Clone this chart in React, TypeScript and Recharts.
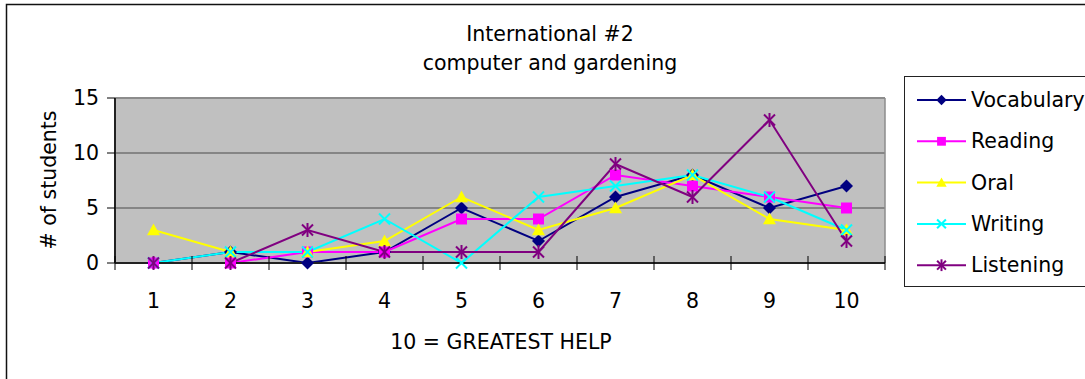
import React from 'react';
import { LineChart, Line, XAxis, YAxis, CartesianGrid, Legend, ReferenceLine } from 'recharts';

// Ratings on the 1..10 scale (10 = greatest help)
const ratings = [1, 2, 3, 4, 5, 6, 7, 8, 9, 10];

// Number of students giving each rating, per skill
const vocabulary = [0, 1, 0, 1, 5, 2, 6, 8, 5, 7];
const reading = [0, 0, 1, 1, 4, 4, 8, 7, 6, 5];
const oral = [3, 1, 1, 2, 6, 3, 5, 8, 4, 3];
const writing = [0, 1, 1, 4, 0, 6, 7, 8, 6, 3];
const listening = [0, 0, 3, 1, 1, 1, 9, 6, 13, 2];

const countTicks = [0, 5, 10, 15];

const titleLines = ['International #2', 'computer and gardening'];
const xTitle = '10 = GREATEST HELP';
const yTitle = '# of students';

type MarkerKind = 'diamond' | 'square' | 'triangle' | 'cross' | 'star';

const series: { key: string; color: string; marker: MarkerKind; values: number[] }[] = [
  { key: 'Vocabulary', color: '#000080', marker: 'diamond', values: vocabulary },
  { key: 'Reading', color: '#FF00FF', marker: 'square', values: reading },
  { key: 'Oral', color: '#FFFF00', marker: 'triangle', values: oral },
  { key: 'Writing', color: '#00FFFF', marker: 'cross', values: writing },
  { key: 'Listening', color: '#800080', marker: 'star', values: listening },
];

const data = ratings.map((r, i) => {
  const row: Record<string, number> = { rating: r };
  series.forEach((s) => {
    row[s.key] = s.values[i];
  });
  return row;
});

// Category labels sit on whole numbers, tick marks on the half steps between them
const xTicks = ratings
  .flatMap((r) => [r - 0.5, r])
  .concat(ratings[ratings.length - 1] + 0.5);

const FONT = '"DejaVu Sans", Verdana, sans-serif';
const FONT_SIZE = 20.5;

function Marker({ kind, color, cx, cy, s = 1 }: { kind: MarkerKind; color: string; cx: number; cy: number; s?: number }) {
  if (cx == null || cy == null) return null;
  switch (kind) {
    case 'diamond': {
      const r = 6.5 * s;
      return <polygon points={`${cx},${cy - r} ${cx + r},${cy} ${cx},${cy + r} ${cx - r},${cy}`} fill={color} />;
    }
    case 'square': {
      const h = 5.5 * s;
      return <rect x={cx - h} y={cy - h} width={2 * h} height={2 * h} fill={color} />;
    }
    case 'triangle': {
      const h = 6.5 * s;
      return <polygon points={`${cx},${cy - h} ${cx + h},${cy + h * 0.8} ${cx - h},${cy + h * 0.8}`} fill={color} />;
    }
    case 'cross': {
      const h = 5.5 * s;
      return (
        <g stroke={color} strokeWidth={2}>
          <line x1={cx - h} y1={cy - h} x2={cx + h} y2={cy + h} />
          <line x1={cx - h} y1={cy + h} x2={cx + h} y2={cy - h} />
        </g>
      );
    }
    case 'star': {
      const h = 5.5 * s;
      return (
        <g stroke={color} strokeWidth={2}>
          <line x1={cx - h} y1={cy - h} x2={cx + h} y2={cy + h} />
          <line x1={cx - h} y1={cy + h} x2={cx + h} y2={cy - h} />
          <line x1={cx} y1={cy - h - 1.5} x2={cx} y2={cy + h + 1.5} />
        </g>
      );
    }
    default:
      return null;
  }
}

const makeDot = (kind: MarkerKind, color: string) => (props: any) => (
  <Marker key={`${kind}-${props.index}`} kind={kind} color={color} cx={props.cx} cy={props.cy} />
);

const XTick = (props: any) => {
  const { x, y, payload } = props;
  const v = payload.value;
  if (Number.isInteger(v)) {
    return (
      <text x={x} y={y + 45} textAnchor="middle" fontFamily={FONT} fontSize={FONT_SIZE} fill="#000">
        {v}
      </text>
    );
  }
  return <line x1={x} x2={x} y1={y - 7} y2={y + 7} stroke="#000" strokeWidth={1} />;
};

const YTick = (props: any) => {
  const { x, y, payload } = props;
  return (
    <g>
      <line x1={x - 8} x2={x} y1={y} y2={y} stroke="#000" strokeWidth={1} />
      <text x={x - 16} y={y + 7} textAnchor="end" fontFamily={FONT} fontSize={FONT_SIZE} fill="#000">
        {payload.value}
      </text>
    </g>
  );
};

const seriesIndex = (name: string) => series.findIndex((s) => s.key === name);

const LegendBox = (props: any) => {
  const payload: any[] = [...(props.payload || [])].sort(
    (a, b) => seriesIndex(String(a.dataKey ?? a.value)) - seriesIndex(String(b.dataKey ?? b.value))
  );
  const rowGap = 41.3;
  return (
    <div
      style={{
        width: 200,
        height: 211,
        boxSizing: 'border-box',
        border: '1px solid #222',
        background: '#fff',
      }}
    >
      <svg width={200} height={209} style={{ display: 'block' }}>
        {payload.map((entry, i) => {
          const def = series.find((s) => s.key === entry.dataKey || s.key === entry.value);
          if (!def) return null;
          const cy = 23 + i * rowGap;
          return (
            <g key={def.key}>
              <line x1={12} x2={61} y1={cy} y2={cy} stroke={def.color} strokeWidth={2} />
              <Marker kind={def.marker} color={def.color} cx={36.5} cy={cy} s={0.8} />
              <text x={66} y={cy + 7} fontFamily={FONT} fontSize={FONT_SIZE} fill="#000">
                {entry.value}
              </text>
            </g>
          );
        })}
      </svg>
    </div>
  );
};

export default function App() {
  return (
    <div
      style={{
        position: 'absolute',
        left: 0,
        top: 0,
        width: 1085,
        height: 379,
        overflow: 'hidden',
        background: '#fff',
      }}
    >
      <svg width={1085} height={379} style={{ position: 'absolute', left: 0, top: 0 }}>
        <rect x={6.5} y={4.5} width={1200} height={500} fill="none" stroke="#111" strokeWidth={1.5} />
        <text x={550} y={41} textAnchor="middle" fontFamily={FONT} fontSize={FONT_SIZE} fill="#000">
          {titleLines[0]}
        </text>
        <text x={550} y={70} textAnchor="middle" fontFamily={FONT} fontSize={FONT_SIZE} fill="#000">
          {titleLines[1]}
        </text>
        <text x={501} y={349} textAnchor="middle" fontFamily={FONT} fontSize={FONT_SIZE} fill="#000">
          {xTitle}
        </text>
        <text
          transform="translate(56,180) rotate(-90)"
          textAnchor="middle"
          fontFamily={FONT}
          fontSize={FONT_SIZE}
          fill="#000"
        >
          {yTitle}
        </text>
      </svg>
      <div style={{ position: 'absolute', left: 0, top: 0 }}>
        <LineChart width={1085} height={379} data={data} margin={{ top: 98, right: 200, bottom: 86, left: 55 }}>
          <CartesianGrid vertical={false} stroke="#4a4a4a" fill="#C0C0C0" fillOpacity={1} />
          <ReferenceLine y={15} stroke="#8c8c8c" strokeWidth={2} />
          <ReferenceLine x={10.5} stroke="#8c8c8c" strokeWidth={1.5} />
          <XAxis
            dataKey="rating"
            type="number"
            domain={[0.5, 10.5]}
            ticks={xTicks}
            interval={0}
            tickLine={false}
            tickSize={0}
            tickMargin={0}
            tick={<XTick />}
            height={30}
            axisLine={{ stroke: '#222', strokeWidth: 2 }}
            allowDecimals
          />
          <YAxis
            type="number"
            domain={[0, 15]}
            ticks={countTicks}
            interval={0}
            tickLine={false}
            tickSize={0}
            tickMargin={0}
            tick={<YTick />}
            width={60}
            axisLine={{ stroke: '#222', strokeWidth: 2 }}
          />
          <Legend
            layout="vertical"
            align="center"
            verticalAlign="middle"
            wrapperStyle={{ left: 904, top: 76, width: 200, height: 211 }}
            content={<LegendBox />}
          />
          {series.map((s) => (
            <Line
              key={s.key}
              type="linear"
              dataKey={s.key}
              name={s.key}
              stroke={s.color}
              strokeWidth={2}
              dot={makeDot(s.marker, s.color)}
              activeDot={false}
              isAnimationActive={false}
            />
          ))}
        </LineChart>
      </div>
    </div>
  );
}
